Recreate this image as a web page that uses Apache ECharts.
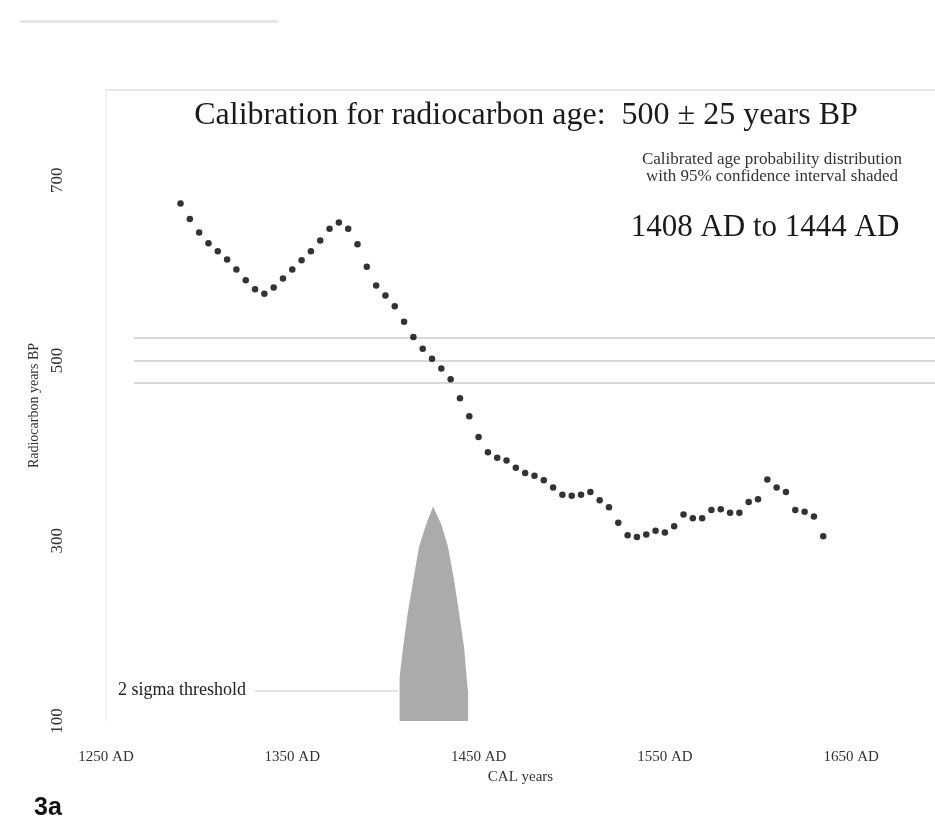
<!DOCTYPE html>
<html>
<head>
<meta charset="utf-8">
<script src="https://cdn.jsdelivr.net/npm/echarts@6/dist/echarts.min.js"></script>
<style>html,body{margin:0;padding:0;background:#fff;}#c{width:935px;height:837px;}</style>
</head>
<body>
<div id="c"></div>
<script>
// Calibration curve: calendar years (AD) and radiocarbon ages (BP)
var curveYears = [];
for (var yr = 1290; yr <= 1635; yr += 5) curveYears.push(yr);
var curveBP = [674, 657, 642, 630, 621, 612, 601, 589, 579, 574,
               581, 591, 601, 611, 621, 633, 646, 653, 646, 629,
               604, 583, 572, 560, 543, 526, 513, 502, 491, 479,
               458, 438, 415, 398, 392, 389, 381, 375, 372, 367,
               359, 351, 350, 351, 354, 345, 337, 320, 306, 304,
               307, 311, 309, 316, 329, 325, 325, 334, 335, 331,
               331, 343, 346, 368, 359, 354, 334, 332, 327, 305];

// Calibrated probability distribution (drawn in the same plot units, baseline 100)
var probYears  = [1407.6, 1407.6, 1409.5, 1412, 1415, 1418, 1422, 1425.6, 1430, 1433.6, 1436.8, 1439.5, 1442.2, 1443.5, 1444.4, 1444.4];
var probValues = [100,    148,    182,    220,  257,  293,  319,  338,    318,  293,    257,    220,    182,    150,    130,    100];

// Measured age and its 1-sigma band
var ageLines = [525, 500, 475];
var sigmaThreshold = {from: 1330, to: 1407, value: 134};

var xTicks = [1250, 1350, 1450, 1550, 1650];
var yTicks = [100, 300, 500, 700];

var serif = '"Liberation Serif", "DejaVu Serif", serif';

var chart = echarts.init(document.getElementById('c'), null, {renderer: 'canvas'});

var curveData = curveYears.map(function (y, i) { return [y, curveBP[i]]; });
var probData = probYears.map(function (y, i) { return [y, probValues[i]]; });

var ageMark = ageLines.map(function (v) {
  return [{coord: [1265, v]}, {coord: [1695, v]}];
});

chart.setOption({
  animation: false,
  backgroundColor: '#ffffff',
  title: {
    text: 'Calibration for radiocarbon age:  500 \u00b1 25 years BP',
    left: 521, top: 95, textAlign: 'center',
    textStyle: {fontFamily: serif, fontSize: 32, fontWeight: 'normal', color: '#1a1a1a'}
  },
  grid: {left: 106, right: 0, top: 90, bottom: 116},
  xAxis: [{
    type: 'value', min: 1250, max: 1695, interval: 100,
    name: 'CAL years', nameLocation: 'middle', nameGap: 43,
    nameTextStyle: {fontFamily: serif, fontSize: 15, color: '#333'},
    axisLine: {show: false}, axisTick: {show: false}, splitLine: {show: false},
    axisLabel: {
      showMaxLabel: false, margin: 29,
      fontFamily: serif, fontSize: 15, color: '#333',
      formatter: function (v) { return xTicks.indexOf(v) >= 0 ? v + ' AD' : ''; }
    }
  }, {
    type: 'value', position: 'top', min: 1250, max: 1695,
    axisLine: {show: true, lineStyle: {color: '#e2e2e2', width: 1.5}},
    axisTick: {show: false}, axisLabel: {show: false}, splitLine: {show: false}
  }],
  yAxis: {
    type: 'value', min: 100, max: 800, interval: 200,
    name: 'Radiocarbon years BP', nameLocation: 'middle', nameGap: 64,
    nameTextStyle: {fontFamily: serif, fontSize: 14, color: '#333'},
    axisLine: {show: true, lineStyle: {color: '#ececec', width: 1.5}},
    axisTick: {show: false}, splitLine: {show: false},
    axisLabel: {
      showMaxLabel: false, rotate: 90, margin: 40,
      fontFamily: serif, fontSize: 17, color: '#333',
      formatter: function (v) { return yTicks.indexOf(v) >= 0 ? String(v) : ''; }
    }
  },
  series: [{
    type: 'line',
    data: probData,
    symbol: 'none',
    lineStyle: {width: 0},
    areaStyle: {color: '#ababab', opacity: 1, origin: 'start'},
    z: 1,
    markLine: {
      silent: true, symbol: 'none', label: {show: false},
      lineStyle: {type: 'solid', color: '#e4e4e4', width: 2},
      data: [[{coord: [sigmaThreshold.from, sigmaThreshold.value]}, {coord: [sigmaThreshold.to, sigmaThreshold.value]}]]
    }
  }, {
    type: 'line',
    data: [],
    markLine: {
      silent: true, symbol: 'none', label: {show: false},
      lineStyle: {type: 'solid', color: '#cdcdcd', width: 1.5},
      data: ageMark
    },
    z: 2
  }, {
    type: 'scatter',
    data: curveData,
    symbol: 'circle',
    symbolSize: 6.5,
    itemStyle: {color: '#000000'},
    z: 5
  }],
  graphic: [{
    type: 'rect', shape: {x: 20, y: 20, width: 258, height: 3},
    style: {fill: '#e6e6e6'}, silent: true
  }, {
    type: 'text', x: 772, y: 168,
    style: {
      text: 'Calibrated age probability distribution\nwith 95% confidence interval shaded',
      textAlign: 'center', textVerticalAlign: 'middle',
      fontFamily: serif, fontSize: 17, lineHeight: 17, fill: '#333'
    }
  }, {
    type: 'text', x: 765, y: 228,
    style: {text: '1408 AD to 1444 AD', textAlign: 'center', textVerticalAlign: 'middle',
            fontFamily: serif, fontSize: 31, fill: '#1a1a1a'}
  }, {
    type: 'text', x: 118, y: 690,
    style: {text: '2 sigma threshold', textVerticalAlign: 'middle', fontFamily: serif, fontSize: 18, fill: '#222'}
  }, {
    type: 'text', x: 34, y: 808,
    style: {text: '3a', textVerticalAlign: 'middle', fontFamily: '"Liberation Sans", Arial, sans-serif', fontSize: 25, fontWeight: 'bold', fill: '#111'}
  }]
});
</script>
</body>
</html>
